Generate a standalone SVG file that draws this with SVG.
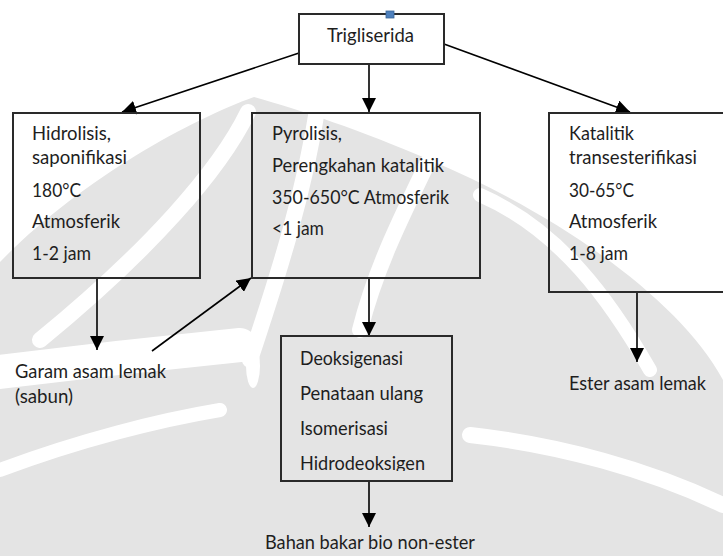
<svg xmlns="http://www.w3.org/2000/svg" width="723" height="556" viewBox="0 0 723 556">
  <defs>
    <marker id="arrow" markerUnits="userSpaceOnUse" markerWidth="14" markerHeight="14" refX="14" refY="7" orient="auto">
      <path d="M0,0 L14,7 L0,14 Z" fill="#000"/>
    </marker>
    <clipPath id="clipHidro">
      <rect x="282" y="337" width="170" height="134"/>
    </clipPath>
  </defs>
  <style>
    .box { fill: none; stroke: #2a2a2a; stroke-width: 2; }
    .conn { fill: none; stroke: #000; stroke-width: 1.6; marker-end: url(#arrow); }
    text { font-family: Lato, "Open Sans", sans-serif; font-size: 19px; fill: #1e1e1e; }
    .wm { fill: #e4e4e4; }
    .wg { fill: none; stroke: #fff; stroke-linecap: round; }
  </style>
  <rect x="0" y="0" width="723" height="556" fill="#fff"/>

  <g id="watermark">
    <path class="wm" d="M254,97 C300,110 360,130 430,160 C560,215 680,300 723,380 L723,556 L0,556 L0,262 C80,180 190,120 254,97 Z"/>
    <path class="wg" stroke-width="16" d="M248,112 C220,170 150,250 40,340"/>
    <path class="wg" stroke-width="16" d="M318,104 C305,190 280,270 250,360"/>
    <path class="wg" stroke-width="16" d="M428,162 C400,220 375,270 360,330"/>
    <path class="wg" stroke-width="14" d="M480,195 C560,230 610,300 650,370"/>
    <path class="wg" stroke-width="34" d="M0,372 C80,362 170,352 240,345"/>
    <path class="wg" stroke-width="14" d="M0,470 C80,440 160,420 220,410"/>
    <path class="wg" stroke-width="16" d="M723,505 C650,470 560,445 470,435"/>
    <ellipse cx="253" cy="366" rx="7" ry="22" fill="#fff"/>
  </g>

  <g id="connectors">
    <line class="conn" x1="299" y1="53" x2="122" y2="112"/>
    <line class="conn" x1="369" y1="64" x2="369" y2="112"/>
    <line class="conn" x1="444" y1="44" x2="630" y2="112"/>
    <line class="conn" x1="97" y1="278" x2="97" y2="350"/>
    <line class="conn" x1="152" y1="351" x2="251" y2="278"/>
    <line class="conn" x1="369" y1="278" x2="369" y2="336"/>
    <line class="conn" x1="637" y1="292" x2="637" y2="362"/>
    <line class="conn" x1="369" y1="481" x2="369" y2="527"/>
  </g>

  <g id="node-trigliserida">
    <rect class="box" x="299" y="14" width="145" height="50"/>
    <rect x="386" y="11" width="8" height="7" fill="#4f81bd" stroke="#3a6699" stroke-width="0.8"/>
    <text x="327" y="42" textLength="87" lengthAdjust="spacingAndGlyphs">Trigliserida</text>
  </g>

  <g id="node-hidrolisis">
    <rect class="box" x="13" y="113" width="187" height="165"/>
    <text x="32" y="140" textLength="79" lengthAdjust="spacingAndGlyphs">Hidrolisis,</text>
    <text x="32" y="164" textLength="95" lengthAdjust="spacingAndGlyphs">saponifikasi</text>
    <text x="32" y="197" textLength="49" lengthAdjust="spacingAndGlyphs">180°C</text>
    <text x="32" y="228" textLength="88" lengthAdjust="spacingAndGlyphs">Atmosferik</text>
    <text x="32" y="260" textLength="59" lengthAdjust="spacingAndGlyphs">1-2 jam</text>
  </g>

  <g id="node-pyrolisis">
    <rect class="box" x="252" y="113" width="228" height="165"/>
    <text x="272" y="140" textLength="70" lengthAdjust="spacingAndGlyphs">Pyrolisis,</text>
    <text x="272" y="172" textLength="172" lengthAdjust="spacingAndGlyphs">Perengkahan katalitik</text>
    <text x="272" y="204" textLength="177" lengthAdjust="spacingAndGlyphs">350-650°C Atmosferik</text>
    <text x="272" y="235" textLength="52" lengthAdjust="spacingAndGlyphs">&lt;1 jam</text>
  </g>

  <g id="node-katalitik">
    <rect class="box" x="549" y="113" width="190" height="179"/>
    <text x="569" y="140" textLength="65" lengthAdjust="spacingAndGlyphs">Katalitik</text>
    <text x="569" y="164" textLength="128" lengthAdjust="spacingAndGlyphs">transesterifikasi</text>
    <text x="569" y="197" textLength="65" lengthAdjust="spacingAndGlyphs">30-65°C</text>
    <text x="569" y="228" textLength="88" lengthAdjust="spacingAndGlyphs">Atmosferik</text>
    <text x="569" y="260" textLength="59" lengthAdjust="spacingAndGlyphs">1-8 jam</text>
  </g>

  <g id="node-deoksigenasi">
    <rect class="box" x="281" y="336" width="171" height="145"/>
    <text x="300" y="365" textLength="103" lengthAdjust="spacingAndGlyphs">Deoksigenasi</text>
    <text x="300" y="400" textLength="123" lengthAdjust="spacingAndGlyphs">Penataan ulang</text>
    <text x="300" y="435" textLength="88" lengthAdjust="spacingAndGlyphs">Isomerisasi</text>
    <text x="300" y="470" textLength="125" lengthAdjust="spacingAndGlyphs" clip-path="url(#clipHidro)">Hidrodeoksigen</text>
  </g>

  <g id="node-garam">
    <text x="15" y="378" textLength="151" lengthAdjust="spacingAndGlyphs">Garam asam lemak</text>
    <text x="15" y="403" textLength="58" lengthAdjust="spacingAndGlyphs">(sabun)</text>
  </g>

  <g id="node-ester">
    <text x="569" y="390" textLength="137" lengthAdjust="spacingAndGlyphs">Ester asam lemak</text>
  </g>

  <g id="node-bahan">
    <text x="265" y="549" textLength="210" lengthAdjust="spacingAndGlyphs">Bahan bakar bio non-ester</text>
  </g>
</svg>
